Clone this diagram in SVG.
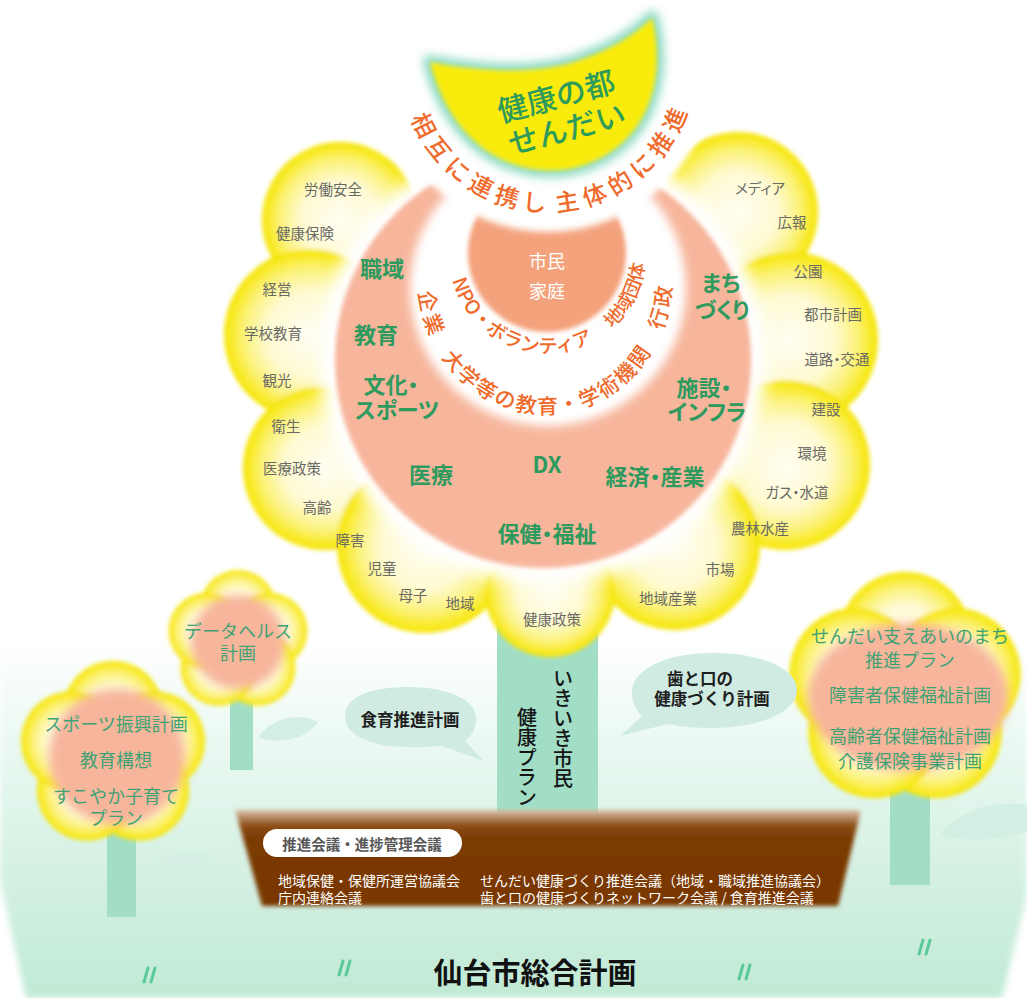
<svg xmlns="http://www.w3.org/2000/svg" width="1027" height="998" viewBox="0 0 1027 998">
  <defs>
    <style>
      text { font-family: "Noto Sans CJK JP", "Noto Sans", sans-serif; }
      .pt { font-size: 14.5px; fill: #6a6a65; text-anchor: middle; dominant-baseline: central; font-feature-settings: "palt"; }
      .cat { font-size: 22px; font-weight: 700; fill: #2e9a5e; text-anchor: middle; dominant-baseline: central; font-feature-settings: "palt"; }
      .arc { fill: #ef6a2b; font-weight: 500; }
      .moon { font-size: 30px; font-weight: 500; fill: #2f9b5b; text-anchor: middle; dominant-baseline: central; }
      .plan { font-size: 18px; fill: #3fa274; text-anchor: middle; dominant-baseline: central; }
      .bub { font-size: 16.5px; font-weight: 700; fill: #1e1e1e; text-anchor: middle; dominant-baseline: central; }
      .mtg { font-size: 14px; fill: #ffffff; dominant-baseline: central; }
      .vt { font-size: 20px; font-weight: 500; fill: #151515; writing-mode: vertical-rl; }
      .petal { fill: url(#petalFill); }
      .stem { fill: #a2dec6; }
      .leaf { fill: #d3efe4; }
      .grass { fill: none; stroke: #5cc99a; stroke-width: 3; stroke-linecap: round; }
    </style>
    <radialGradient id="petalFill" cx="0.5" cy="0.5" r="0.5">
      <stop offset="0" stop-color="#fffef2"/>
      <stop offset="0.5" stop-color="#fefad2"/>
      <stop offset="0.76" stop-color="#fcf27c"/>
      <stop offset="0.92" stop-color="#f8ea28"/>
      <stop offset="1" stop-color="#f5e400"/>
    </radialGradient>
    <linearGradient id="groundFill" gradientUnits="userSpaceOnUse" x1="0" y1="640" x2="0" y2="998">
      <stop offset="0" stop-color="#ffffff"/>
      <stop offset="0.35" stop-color="#e6f7ef"/>
      <stop offset="1" stop-color="#c0ead5"/>
    </linearGradient>
    <linearGradient id="soilFill" x1="0" y1="0" x2="0" y2="1">
      <stop offset="0" stop-color="#dcc3ac"/>
      <stop offset="0.16" stop-color="#8d4d15"/>
      <stop offset="0.3" stop-color="#7b3a05"/>
      <stop offset="1" stop-color="#7a3905"/>
    </linearGradient>
    <filter id="soft" x="-10%" y="-10%" width="120%" height="120%"><feGaussianBlur stdDeviation="2"/></filter>
    <filter id="soft3" x="-10%" y="-10%" width="120%" height="120%"><feGaussianBlur stdDeviation="3"/></filter>
    <filter id="blur5" x="-20%" y="-20%" width="140%" height="140%"><feGaussianBlur stdDeviation="5"/></filter>
    <filter id="blur8" x="-20%" y="-20%" width="140%" height="140%"><feGaussianBlur stdDeviation="8"/></filter>
    <path id="arcTop" d="M403.2,39.5 A147,147 0 1 0 692.8,39.5"/>
    <path id="arcOuter" d="M419.93,254.38 A127,136 0 1 0 670.07,254.38"/>
    <path id="arcInner" d="M450.49,237.98 A98,98 0 1 0 643.51,237.98"/>
    <path id="crescent" d="M430,62 C480,72 540,75 580,60 C610,50 635,35 652,18 C665,70 652,118 620,145 C590,170 550,178 510,163 C470,148 442,110 430,62 Z"/>
  </defs>

  <rect width="1027" height="998" fill="#ffffff"/>

  <!-- ground -->
  <g id="ground">
    <path d="M0,640 L1027,640 L1027,895 L1002,998 L26,998 L0,880 Z" fill="url(#groundFill)" filter="url(#soft3)"/>
    <path class="grass" d="M144,982 L148,968 M151,982 L155,968"/>
    <path class="grass" d="M339,975 L343,961 M346,975 L350,961"/>
    <path class="grass" d="M739,979 L743,965 M746,979 L750,965"/>
    <path class="grass" d="M919,954 L923,940 M926,954 L930,940"/>
  </g>

  <!-- small plan flowers -->
  <g id="flower-datahealth">
    <rect class="stem" x="230" y="690" width="23" height="80"/>
    <path class="leaf" d="M258,738 C270,718 300,712 318,722 C305,740 280,744 258,738 Z"/>
    <g filter="url(#soft)">
      <circle class="petal" cx="238" cy="608" r="38"/>
      <circle class="petal" cx="269.4" cy="630.8" r="38"/>
      <circle class="petal" cx="257.4" cy="667.7" r="38"/>
      <circle class="petal" cx="218.6" cy="667.7" r="38"/>
      <circle class="petal" cx="206.6" cy="630.8" r="38"/>
    </g>
    <circle cx="238" cy="642" r="47" fill="#f7b69c" filter="url(#blur5)"/>
    <text class="plan" x="238" y="630">データヘルス</text>
    <text class="plan" x="238" y="652">計画</text>
  </g>

  <g id="flower-sports">
    <rect class="stem" x="107" y="820" width="29" height="97"/>
    <path class="leaf" d="M150,870 C165,852 190,848 210,855 C198,868 175,874 150,870 Z" opacity="0.6"/>
    <g filter="url(#soft)">
      <circle class="petal" cx="113" cy="711" r="50"/>
      <circle class="petal" cx="154.8" cy="741.4" r="50"/>
      <circle class="petal" cx="138.9" cy="790.6" r="50"/>
      <circle class="petal" cx="87.1" cy="790.6" r="50"/>
      <circle class="petal" cx="71.2" cy="741.4" r="50"/>
    </g>
    <circle cx="117" cy="757" r="68" fill="#f7b69c" filter="url(#blur5)"/>
    <text class="plan" x="116" y="723">スポーツ振興計画</text>
    <text class="plan" x="116" y="759">教育構想</text>
    <text class="plan" x="116" y="795">すこやか子育て</text>
    <text class="plan" x="116" y="817">プラン</text>
  </g>

  <g id="flower-welfare">
    <rect class="stem" x="890" y="770" width="40" height="115"/>
    <path class="leaf" d="M940,835 C960,808 1000,800 1027,805 L1027,832 C1000,840 965,842 940,835 Z"/>
    <g filter="url(#soft)">
      <circle class="petal" cx="905" cy="638" r="66"/>
      <circle class="petal" cx="954.5" cy="674" r="66"/>
      <circle class="petal" cx="935.6" cy="732" r="66"/>
      <circle class="petal" cx="874.4" cy="732" r="66"/>
      <circle class="petal" cx="855.5" cy="674" r="66"/>
    </g>
    <ellipse cx="908" cy="697" rx="100" ry="74" fill="#f7b69c" filter="url(#blur5)"/>
    <text class="plan" x="910" y="635">せんだい支えあいのまち</text>
    <text class="plan" x="910" y="659">推進プラン</text>
    <text class="plan" x="910" y="694">障害者保健福祉計画</text>
    <text class="plan" x="910" y="735">高齢者保健福祉計画</text>
    <text class="plan" x="910" y="760">介護保険事業計画</text>
  </g>

  <!-- main stem -->
  <g id="main-stem">
    <rect class="stem" x="497" y="620" width="101" height="195"/>
    <text class="vt" x="563" y="668">いきいき市民</text>
    <text class="vt" x="527" y="707">健康プラン</text>
  </g>

  <!-- petals of the main flower -->
  <g id="petals" filter="url(#soft)">
    <circle class="petal" cx="340" cy="220" r="78"/>
    <circle class="petal" cx="738" cy="212" r="80"/>
    <circle class="petal" cx="310" cy="335" r="86"/>
    <circle class="petal" cx="790" cy="340" r="88"/>
    <circle class="petal" cx="325" cy="468" r="82"/>
    <circle class="petal" cx="785" cy="465" r="85"/>
    <circle class="petal" cx="425" cy="545" r="88"/>
    <circle class="petal" cx="675" cy="545" r="85"/>
    <circle class="petal" cx="550" cy="592" r="65"/>
  </g>

  <!-- core discs -->
  <g id="core">
    <circle cx="543" cy="360" r="224" fill="#ffffff" filter="url(#blur8)"/>
    <circle cx="543" cy="360" r="208" fill="#f7b69c" filter="url(#soft)"/>
    <circle cx="548" cy="288" r="138" fill="#ffffff" filter="url(#blur5)"/>
    <circle cx="547" cy="253" r="79" fill="#f4a27c" filter="url(#soft)"/>
    <circle cx="548" cy="65" r="167" fill="#ffffff" filter="url(#soft3)"/>
  </g>

  <!-- crescent -->
  <g id="moon">
    <use href="#crescent" fill="#8edac4" stroke="#8edac4" stroke-width="14" stroke-linejoin="round" filter="url(#blur5)"/>
    <use href="#crescent" fill="#f9ec0e" filter="url(#soft)"/>
    <g transform="translate(560,111) rotate(-15)">
      <text class="moon" x="0" y="-17">健康の都</text>
      <text class="moon" x="2" y="17">せんだい</text>
    </g>
  </g>

  <!-- curved orange captions -->
  <g id="arc-texts">
    <text class="arc" font-size="24" letter-spacing="6" text-anchor="middle"><textPath href="#arcTop" startOffset="170">相互に連携し</textPath></text>
    <text class="arc" font-size="24" letter-spacing="6" text-anchor="middle"><textPath href="#arcTop" startOffset="355">主体的に推進</textPath></text>
    <text class="arc" font-size="21" letter-spacing="4" text-anchor="middle"><textPath href="#arcOuter" startOffset="63">企業</textPath></text>
    <text class="arc" font-size="21" letter-spacing="2" text-anchor="middle"><textPath href="#arcOuter" startOffset="234">大学等の教育・学術機関</textPath></text>
    <text class="arc" font-size="21" letter-spacing="3" text-anchor="middle"><textPath href="#arcOuter" startOffset="407">行政</textPath></text>
    <text class="arc" font-size="19.5" text-anchor="middle"><textPath href="#arcInner" startOffset="131">NPO・ボランティア</textPath></text>
    <text class="arc" font-size="18.5" text-anchor="middle"><textPath href="#arcInner" startOffset="279">地域団体</textPath></text>
  </g>

  <g id="citizens">
    <text x="547" y="260" font-size="18" fill="#ffffff" text-anchor="middle" dominant-baseline="central">市民</text>
    <text x="547" y="290" font-size="18" fill="#ffffff" text-anchor="middle" dominant-baseline="central">家庭</text>
  </g>

  <!-- field labels -->
  <g id="fields">
    <text class="cat" x="382" y="267">職域</text>
    <text class="cat" x="376" y="333">教育</text>
    <text class="cat" x="391" y="383">文化・</text>
    <text class="cat" x="397" y="408">スポーツ</text>
    <text class="cat" x="431" y="473">医療</text>
    <text class="cat" x="547" y="463" font-size="25">DX</text>
    <text class="cat" x="547" y="532">保健・福祉</text>
    <text class="cat" x="655" y="475">経済・産業</text>
    <text class="cat" x="704" y="386">施設・</text>
    <text class="cat" x="707" y="410">インフラ</text>
    <text class="cat" x="721" y="281">まち</text>
    <text class="cat" x="722" y="308">づくり</text>
  </g>

  <!-- petal labels -->
  <g id="petal-labels">
    <text class="pt" x="333" y="188">労働安全</text>
    <text class="pt" x="305" y="232">健康保険</text>
    <text class="pt" x="277" y="288">経営</text>
    <text class="pt" x="273" y="332">学校教育</text>
    <text class="pt" x="277" y="379">観光</text>
    <text class="pt" x="286" y="425">衛生</text>
    <text class="pt" x="292" y="467">医療政策</text>
    <text class="pt" x="317" y="506">高齢</text>
    <text class="pt" x="350" y="539">障害</text>
    <text class="pt" x="382" y="567">児童</text>
    <text class="pt" x="413" y="594">母子</text>
    <text class="pt" x="460" y="602">地域</text>
    <text class="pt" x="552" y="618">健康政策</text>
    <text class="pt" x="668" y="597">地域産業</text>
    <text class="pt" x="720" y="568">市場</text>
    <text class="pt" x="760" y="527">農林水産</text>
    <text class="pt" x="797" y="491">ガス・水道</text>
    <text class="pt" x="812" y="452">環境</text>
    <text class="pt" x="826" y="408">建設</text>
    <text class="pt" x="837" y="358">道路・交通</text>
    <text class="pt" x="833" y="313">都市計画</text>
    <text class="pt" x="808" y="270">公園</text>
    <text class="pt" x="792" y="221">広報</text>
    <text class="pt" x="760" y="187">メディア</text>
  </g>

  <!-- speech bubbles -->
  <g id="bubble-food">
    <path d="M345,716 C345,696 372,687 408,687 C448,687 476,700 476,718 C476,728 472,736 465,741 L484,761 L442,746 C430,747 418,747 408,747 C372,747 345,736 345,716 Z" fill="#d0ece2"/>
    <text class="bub" x="410" y="719">食育推進計画</text>
  </g>
  <g id="bubble-dental">
    <path d="M797,690 C797,668 760,653 712,653 C665,653 632,670 632,692 C632,702 636,710 642,716 L620,736 L668,724 C682,727 697,728 712,728 C760,728 797,712 797,690 Z" fill="#d0ece2"/>
    <text class="bub" x="700" y="678">歯と口の</text>
    <text class="bub" x="712" y="698">健康づくり計画</text>
  </g>

  <!-- planter -->
  <g id="planter">
    <path d="M235,810 L861,810 L838,906 L262,906 Z" fill="url(#soilFill)" filter="url(#soft)"/>
    <rect x="263" y="829" width="199" height="28" rx="14" fill="#ffffff"/>
    <text x="362" y="843" font-size="14.5" font-weight="700" fill="#575757" text-anchor="middle" dominant-baseline="central">推進会議・進捗管理会議</text>
    <text class="mtg" x="278" y="880">地域保健・保健所運営協議会</text>
    <text class="mtg" x="278" y="897">庁内連絡会議</text>
    <text class="mtg" x="480" y="880">せんだい健康づくり推進会議（地域・職域推進協議会）</text>
    <text class="mtg" x="480" y="897">歯と口の健康づくりネットワーク会議 / 食育推進会議</text>
  </g>

  <text id="title" x="535" y="971" font-size="29" font-weight="700" fill="#111111" text-anchor="middle" dominant-baseline="central">仙台市総合計画</text>
</svg>
